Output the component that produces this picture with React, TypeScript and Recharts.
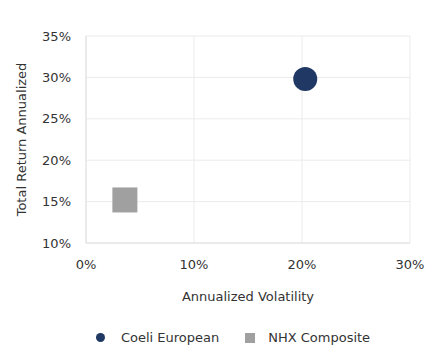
import React from "react";
import { ScatterChart, Scatter, XAxis, YAxis, CartesianGrid, Legend } from "recharts";

// Risk / return points (fractions)
const coeliVolatility = [0.203];
const coeliReturn = [0.298];
const nhxVolatility = [0.036];
const nhxReturn = [0.152];

const xTicks = [0, 0.1, 0.2, 0.3];
const yTicks = [0.1, 0.15, 0.2, 0.25, 0.3, 0.35];

const NAVY = "#1f3864";
const GREY = "#a0a0a0";
const FONT = "'DejaVu Sans', Verdana, sans-serif";
const TEXT = "#333";

const coeliData = coeliVolatility.map((x, i) => ({ x, y: coeliReturn[i] }));
const nhxData = nhxVolatility.map((x, i) => ({ x, y: nhxReturn[i] }));

const pct = (v: number) => `${Math.round(v * 100)}%`;

function Dot(props: any) {
  const { cx, cy } = props;
  return <circle cx={cx} cy={cy} r={12} fill={NAVY} />;
}

function Box(props: any) {
  const { cx, cy } = props;
  return <rect x={cx - 12.5} y={cy - 12.5} width={25} height={25} fill={GREY} />;
}

function ChartLegend() {
  return (
    <div
      style={{
        height: 42,
        paddingTop: 27,
        boxSizing: "border-box",
        display: "flex",
        justifyContent: "center",
        alignItems: "center",
        fontFamily: FONT,
        fontSize: 13,
        color: TEXT,
        lineHeight: "14px",
        paddingLeft: 56,
      }}
    >
      <span style={{ display: "flex", alignItems: "center", marginRight: 26 }}>
        <span style={{ width: 9, height: 9, borderRadius: "50%", background: NAVY, marginRight: 16 }} />
        Coeli European
      </span>
      <span style={{ display: "flex", alignItems: "center" }}>
        <span style={{ width: 10, height: 10, background: GREY, marginRight: 13 }} />
        NHX Composite
      </span>
    </div>
  );
}

export default function App() {
  const tick = { fill: TEXT, fontSize: 13, fontFamily: FONT };
  return (
    <div style={{ position: "absolute", left: 0, top: 0, background: "#fff" }}>
      <ScatterChart width={425} height={345} margin={{ top: 36, right: 15, bottom: 0, left: 0 }}>
        <CartesianGrid stroke="#ebebeb" />
        <XAxis
          type="number"
          dataKey="x"
          domain={[0, 0.3]}
          ticks={xTicks}
          tickFormatter={pct}
          tick={tick}
          tickLine={false}
          tickMargin={11}
          axisLine={{ stroke: "#e0e0e0" }}
          height={60}
          label={{
            value: "Annualized Volatility",
            position: "insideBottom",
            offset: 2,
            fill: TEXT,
            fontSize: 13,
            fontFamily: FONT,
          }}
        />
        <YAxis
          type="number"
          dataKey="y"
          domain={[0.1, 0.35]}
          ticks={yTicks}
          tickFormatter={pct}
          tick={tick}
          tickLine={false}
          tickMargin={9}
          axisLine={{ stroke: "#e0e0e0" }}
          width={86}
          label={{
            value: "Total Return Annualized",
            angle: -90,
            position: "insideLeft",
            offset: 21,
            style: { textAnchor: "middle" },
            fill: TEXT,
            fontSize: 13,
            fontFamily: FONT,
          }}
        />
        <Legend verticalAlign="bottom" content={() => <ChartLegend />} />
        <Scatter name="Coeli European" data={coeliData} shape={Dot} isAnimationActive={false} />
        <Scatter name="NHX Composite" data={nhxData} shape={Box} isAnimationActive={false} />
      </ScatterChart>
    </div>
  );
}
